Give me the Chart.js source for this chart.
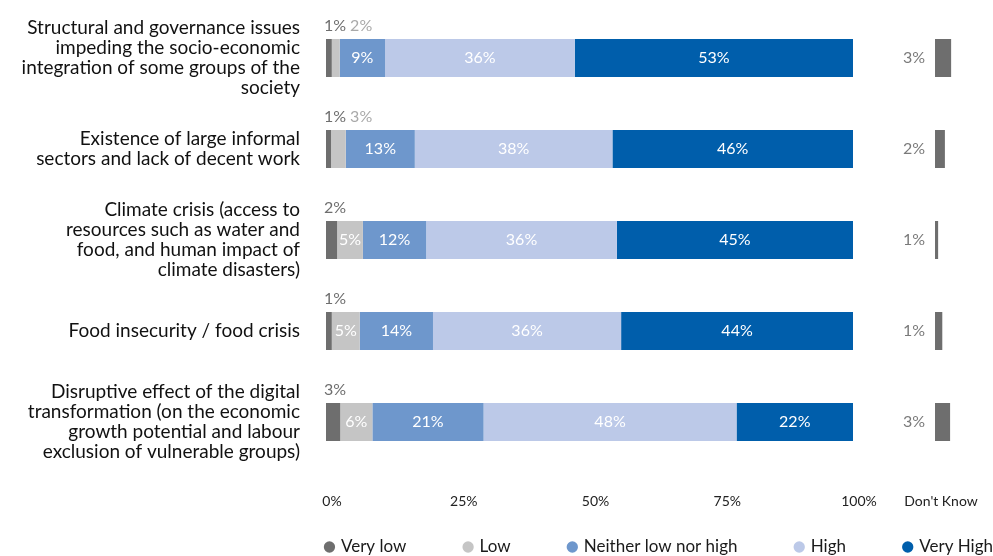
<!DOCTYPE html>
<html><head><meta charset="utf-8">
<script src="https://cdn.jsdelivr.net/npm/chart.js@4"></script>
<style>html,body{margin:0;padding:0;background:#fff;overflow:hidden}#wrap{width:993px;height:556px;position:relative}</style>
</head><body><div id="wrap"><canvas id="c" width="993" height="556"></canvas></div>
<script>
const categories = [
  ["Structural and governance issues", "impeding the socio-economic", "integration of some groups of the", "society"],
  ["Existence of large informal", "sectors and lack of decent work"],
  ["Climate crisis (access to", "resources such as water and", "food, and human impact of", "climate disasters)"],
  ["Food insecurity / food crisis"],
  ["Disruptive effect of the digital", "transformation (on the economic", "growth potential and labour", "exclusion of vulnerable groups)"]
];
const seriesNames = ["Very low", "Low", "Neither low nor high", "High", "Very High"];
const veryLow  = [1.1, 0.95, 2.1, 1.1, 2.7];
const low      = [1.5, 2.8, 4.9, 5.3, 6.1];
const neither  = [8.6, 13.1, 12.0, 13.9, 21.1];
const high     = [36.0, 37.5, 36.2, 35.7, 48.0];
const veryHigh = [52.8, 45.65, 44.8, 44.0, 22.1];
const dontKnow = [3.1, 1.9, 0.6, 1.4, 2.9];
const xTicks = [0, 25, 50, 75, 100];
const dkLabel = "Don't Know";

const FONT = 'Lato, "Open Sans", sans-serif';
Chart.defaults.font.family = FONT;

const colors = ['#6e6e6e', '#c5c5c5', '#6e97cc', '#bcc9e8', '#005eab'];

const labelPlugin = {
  id: 'barLabels',
  afterDatasetsDraw(chart) {
    const ctx = chart.ctx;
    ctx.save();
    ctx.font = '16px ' + FONT;
    ctx.textBaseline = 'middle';
    chart.data.datasets.forEach((ds, di) => {
      const meta = chart.getDatasetMeta(di);
      meta.data.forEach((bar, i) => {
        const v = ds.data[i];
        const txt = Math.round(v) + '%';
        const left = Math.min(bar.x, bar.base), right = Math.max(bar.x, bar.base);
        const top = bar.y - bar.height / 2;
        if (ds.isDK) {
          ctx.fillStyle = '#7a7a7a'; ctx.textAlign = 'right';
          ctx.fillText(txt, left - 10, bar.y);
        } else if (di === 0) {
          ctx.fillStyle = '#6e6e6e'; ctx.textAlign = 'left';
          ctx.fillText(txt, left - 2, top - 13);
        } else if (di === 1 && v < 4) {
          const first = Math.round(chart.data.datasets[0].data[i]) + '%';
          const w = ctx.measureText(first).width;
          const base0 = chart.getDatasetMeta(0).data[i].base;
          ctx.fillStyle = '#a9a9a9'; ctx.textAlign = 'left';
          ctx.fillText(txt, base0 - 2 + w + 4, top - 13);
        } else {
          ctx.fillStyle = '#ffffff'; ctx.textAlign = 'center';
          ctx.fillText(txt, (left + right) / 2, bar.y);
        }
      });
    });
    ctx.restore();
  }
};

const seriesData = [veryLow, low, neither, high, veryHigh];
const datasets = seriesData.map((d, k) => ({
  label: seriesNames[k], data: d, backgroundColor: colors[k], borderWidth: 0, xAxisID: 'x'
}));
datasets.push({ label: dkLabel, data: dontKnow, backgroundColor: '#6e6e6e', borderWidth: 0, xAxisID: 'xdk', isDK: true });

const LEG_PAD = 58.75;
const noGrid = { display: false, drawTicks: false };
function fixX(s) { s.height = 12.25; s.paddingLeft = 0; s.paddingRight = 0; }
new Chart(document.getElementById('c'), {
  type: 'bar',
  data: { labels: categories, datasets },
  options: {
    indexAxis: 'y',
    responsive: false,
    animation: false,
    datasets: { bar: { barPercentage: 0.418, categoryPercentage: 1 } },
    layout: { padding: { left: 0, right: -LEG_PAD, top: 12.5, bottom: 0 } },
    scales: {
      y: {
        stacked: true,
        afterFit(s) { s.width = 326; s.paddingTop = 0; s.paddingBottom = 0; },
        grid: noGrid, border: { display: false },
        ticks: { padding: 26, color: '#111', autoSkip: false, font: { size: 19, lineHeight: 1.04 } }
      },
      x: {
        type: 'linear', position: 'bottom', stacked: true, stack: 'h', stackWeight: 527,
        min: 0, max: 100,
        afterFit: fixX,
        afterBuildTicks(s) { s.ticks = xTicks.map(v => ({ value: v })); },
        grid: noGrid, border: { display: false },
        ticks: { mirror: true, padding: -41.9, labelOffset: 6, color: '#222', font: { size: 14 }, callback: v => v + '%' }
      },
      xdk: {
        type: 'linear', position: 'bottom', stacked: true, stack: 'h', stackWeight: 140,
        min: -15.77, max: 11.15,
        afterFit: fixX,
        afterBuildTicks(s) { s.ticks = [{ value: 1.15 }]; },
        grid: noGrid, border: { display: false },
        ticks: { mirror: true, padding: -41.9, color: '#222', font: { size: 14 }, callback: () => dkLabel }
      }
    },
    plugins: {
      legend: {
        position: 'bottom', align: 'end', maxHeight: 76.25,
        labels: {
          usePointStyle: true, pointStyle: 'circle', boxWidth: 6, boxHeight: 8, padding: LEG_PAD,
          color: '#1a1a1a', font: { size: 17 },
          filter: item => item.text !== dkLabel
        }
      },
      tooltip: { enabled: false }
    }
  },
  plugins: [labelPlugin]
});
</script></body></html>
